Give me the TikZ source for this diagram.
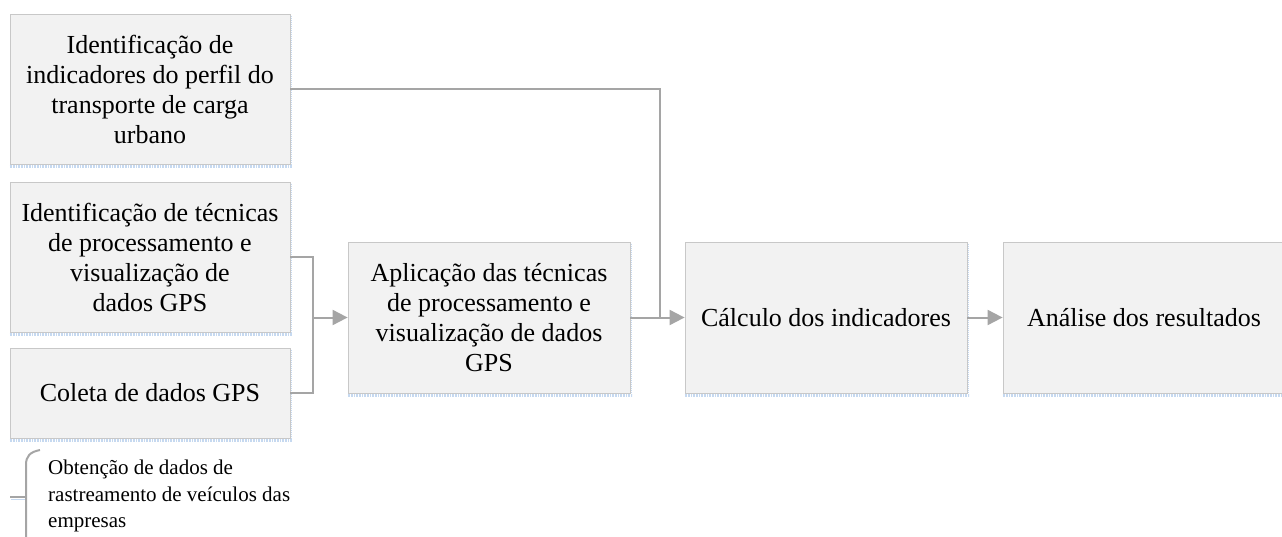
\documentclass[tikz,border=0pt]{standalone}
\usepackage{fontspec}
\setmainfont{Liberation Serif}
\usetikzlibrary{arrows.meta}
\definecolor{boxfill}{HTML}{F2F2F2}
\definecolor{boxline}{HTML}{C8C8C8}
\definecolor{conn}{HTML}{A5A5A5}
\definecolor{shade}{HTML}{C6D9F0}
\tikzset{
  box/.style={draw=boxline, fill=boxfill, line width=0.8pt, align=center,
    font=\fontsize{26pt}{30pt}\selectfont, text=black, inner sep=0pt},
  conline/.style={draw=conn, line width=2pt},
  arr/.style={conline, -{Triangle[length=15pt,width=15pt]}},
  shadeline/.style={draw=shade, line width=2.5pt, dash pattern=on 1pt off 0.6pt},
}
\newcommand{\boxshade}[1]{%
  \draw[shadeline] ([yshift=-2pt]#1.south west) -- ([xshift=2pt,yshift=-2pt]#1.south east);
  \draw[draw=shade, line width=1pt, dash pattern=on 1pt off 1pt] ([xshift=1pt,yshift=-2pt]#1.north east) -- ([xshift=1pt]#1.south east);
}
\begin{document}
\begin{tikzpicture}[x=1pt,y=1pt]
\useasboundingbox (0,0) rectangle (1282,-537);
\clip (0,0) rectangle (1282,-537);

\node[box, minimum width=280pt, minimum height=150pt] (b1) at (150,-89)
  {Identificação de\\indicadores do perfil do\\transporte de carga\\urbano};
\node[box, minimum width=280pt, minimum height=150pt] (b2) at (150,-257)
  {Identificação de técnicas\\de processamento e\\visualização de\\dados GPS};
\node[box, minimum width=280pt, minimum height=90pt] (b3) at (150,-393)
  {Coleta de dados GPS};
\node[box, minimum width=282pt, minimum height=151pt] (b4) at (489,-317.5)
  {Aplicação das técnicas\\de processamento e\\visualização de dados\\GPS};
\node[box, minimum width=282pt, minimum height=151pt] (b5) at (826,-317.5)
  {Cálculo dos indicadores};
\node[box, minimum width=282pt, minimum height=151pt] (b6) at (1144,-317.5)
  {Análise dos resultados};

\boxshade{b1}
\boxshade{b2}
\boxshade{b3}
\boxshade{b4}
\boxshade{b5}
\boxshade{b6}

% connectors
\coordinate (m1) at (313,-317.5);
\coordinate (m2) at (660,-317.5);
\draw[conline] (b2.east) -| (m1);
\draw[conline] (b3.east) -| (m1);
\draw[arr] (m1) -- (b4.west);
\draw[conline] (b1.east) -| (m2);
\draw[arr] (b4.east) -- (b5.west);
\draw[arr] (b5.east) -- (b6.west);

% bracket annotation
\coordinate (t0) at (10,-497);
\coordinate (t1) at (26,-497);
\draw[draw=shade, line width=1pt] (11,-499.5) -- (25,-499.5);
\draw[conline] (t0) -- (t1);
\draw[conline] (40,-450) .. controls (30,-452) and (26,-456) .. (26,-465) -- (26,-545);
\node[anchor=north west, align=left, inner sep=0pt, text=black,
  font=\fontsize{21pt}{26.5pt}\selectfont] (note) at (48,-460)
  {Obtenção de dados de\\rastreamento de veículos das\\empresas};
\end{tikzpicture}
\end{document}
